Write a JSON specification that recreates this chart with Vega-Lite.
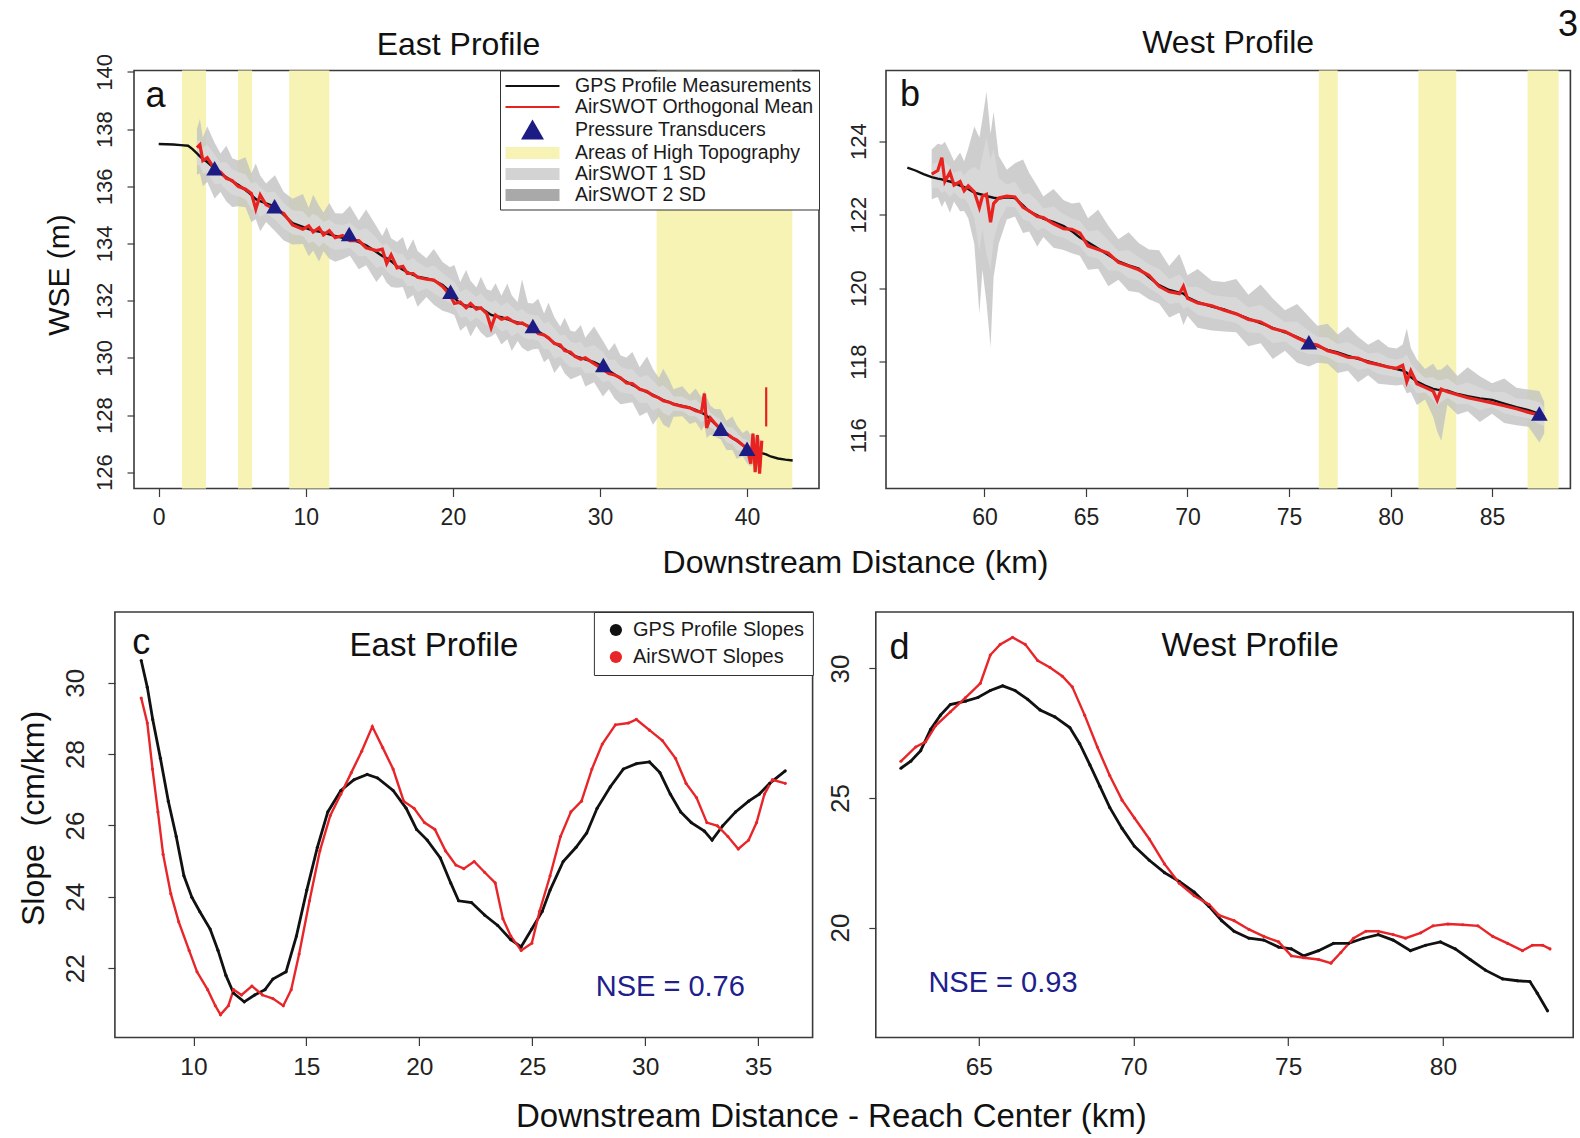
{
"$schema": "https://vega.github.io/schema/vega-lite/v6.json",
"background": "white",
"padding": {"left": 0, "top": 6.5, "right": 0, "bottom": 0},
"title": {"text": "3", "anchor": "end", "fontSize": 36, "offset": -45, "dx": 4, "baseline": "alphabetic", "frame": "bounds"},
"resolve": {"scale": {"color": "independent", "shape": "independent", "stroke": "independent", "size": "independent"}, "legend": {"color": "independent", "shape": "independent", "stroke": "independent"}},
"datasets": {
"a_topo": [{"x0":1.58,"x1":3.22},{"x0":5.39,"x1":6.35},{"x0":8.87,"x1":11.6},{"x0":33.85,"x1":43.08}],
"b_topo": [{"x0":76.47,"x1":77.4},{"x0":81.37,"x1":83.24},{"x0":86.75,"x1":88.28}],
"a_tri": [
{"x":3.8,"y":136.62,"series":"Pressure Transducers"},{"x":7.88,"y":135.29,"series":"Pressure Transducers"},
{"x":12.95,"y":134.32,"series":"Pressure Transducers"},{"x":19.84,"y":132.3,"series":"Pressure Transducers"},
{"x":25.44,"y":131.1,"series":"Pressure Transducers"},{"x":30.23,"y":129.74,"series":"Pressure Transducers"},
{"x":38.22,"y":127.51,"series":"Pressure Transducers"},{"x":40.0,"y":126.81,"series":"Pressure Transducers"}],
"b_tri": [{"x":75.98,"y":118.52},{"x":87.33,"y":116.58}],
"a_spike": [{"x":41.3,"y":127.6,"y2":128.97}],
"a_txt": [{"x":-0.22,"y":139.16,"t":"a"}],
"b_txt": [{"x":56.33,"y":125.24,"t":"b"}],
"c_txt": [{"x":7.69,"y":31.12,"t":"c"}],
"d_txt": [{"x":62.44,"y":30.8,"t":"d"}],
"c_ttl": [{"x":20.65,"y":31.04,"t":"East Profile"}],
"d_ttl": [{"x":73.77,"y":30.86,"t":"West Profile"}],
"c_nse": [{"x":31.11,"y":21.48,"t":"NSE = 0.76"}],
"d_nse": [{"x":65.78,"y":17.85,"t":"NSE = 0.93"}],
"a_wse": [
{"x":0,"g":137.48},{"x":0.5,"g":137.47},{"x":1.0,"g":137.46},{"x":1.5,"g":137.44},{"x":2.0,"g":137.42},{"x":2.3,"g":137.3},
{"x":2.6,"g":137.15,"r":137.35,"h2":138.0,"l2":136.4,"h1":137.6,"l1":136.75},
{"x":2.8,"g":137.05,"r":137.45,"h2":138.35,"l2":136.45,"h1":137.6,"l1":136.73},
{"x":3.0,"g":136.95,"r":136.9,"h2":137.7,"l2":136.0,"h1":137.35,"l1":136.45},
{"x":3.3,"g":136.85,"r":137.0,"h2":138.1,"l2":136.15,"h1":137.45,"l1":136.47},
{"x":3.8,"g":136.62,"r":136.6,"h2":137.52,"l2":135.57,"h1":137.12,"l1":136.07},
{"x":4.2,"g":136.45,"r":136.5,"h2":137.15,"l2":135.8,"h1":136.83,"l1":136.1},
{"x":4.6,"g":136.32,"r":136.28,"h2":137.42,"l2":135.47,"h1":136.84,"l1":135.87},
{"x":5.0,"g":136.18,"r":136.2,"h2":136.98,"l2":135.28,"h1":136.6,"l1":135.7},
{"x":5.4,"g":136.05,"r":136.0,"h2":136.9,"l2":135.3,"h1":136.5,"l1":135.65},
{"x":5.9,"g":135.87,"r":135.9,"h2":137.02,"l2":135.27,"h1":136.42,"l1":135.55},
{"x":6.3,"g":135.7,"r":135.75,"h2":136.45,"l2":134.75,"h1":136.1,"l1":135.2},
{"x":6.6,"g":135.55,"r":135.2,"h2":136.8,"l2":134.85,"h1":136.15,"l1":135.17},
{"x":6.9,"g":135.48,"r":135.7,"h2":136.38,"l2":134.43,"h1":135.98,"l1":134.93},
{"x":7.3,"g":135.4,"r":135.35,"h2":136.1,"l2":134.75,"h1":135.78,"l1":135.05},
{"x":7.9,"g":135.29,"r":135.2,"h2":136.39,"l2":134.44,"h1":135.81,"l1":134.84},
{"x":8.5,"g":135.0,"r":135.05,"h2":135.8,"l2":134.1,"h1":135.42,"l1":134.52},
{"x":9.1,"g":134.71,"r":134.65,"h2":135.56,"l2":133.96,"h1":135.16,"l1":134.31},
{"x":9.8,"g":134.58,"r":134.5,"h2":135.73,"l2":133.98,"h1":135.13,"l1":134.26},
{"x":10.2,"g":134.5,"r":134.62,"h2":135.25,"l2":133.55,"h1":134.9,"l1":134.0},
{"x":10.5,"g":134.45,"r":134.4,"h2":135.7,"l2":133.75,"h1":135.05,"l1":134.07},
{"x":10.9,"g":134.42,"r":134.55,"h2":135.32,"l2":133.37,"h1":134.92,"l1":133.87},
{"x":11.2,"g":134.38,"r":134.3,"h2":135.08,"l2":133.73,"h1":134.76,"l1":134.03},
{"x":11.6,"g":134.32,"r":134.45,"h2":135.42,"l2":133.47,"h1":134.84,"l1":133.87},
{"x":12.0,"g":134.26,"r":134.2,"h2":135.06,"l2":133.36,"h1":134.68,"l1":133.78},
{"x":12.5,"g":134.2,"r":134.28,"h2":135.05,"l2":133.45,"h1":134.65,"l1":133.8},
{"x":13.0,"g":134.17,"r":134.1,"h2":135.32,"l2":133.57,"h1":134.72,"l1":133.85},
{"x":13.6,"g":134.05,"r":134.1,"h2":134.8,"l2":133.1,"h1":134.45,"l1":133.55},
{"x":14.1,"g":133.94,"r":133.85,"h2":135.19,"l2":133.24,"h1":134.54,"l1":133.56},
{"x":14.8,"g":133.7,"r":133.75,"h2":134.6,"l2":132.65,"h1":134.2,"l1":133.15},
{"x":15.2,"g":133.56,"r":133.8,"h2":134.26,"l2":132.91,"h1":133.94,"l1":133.21},
{"x":15.5,"g":133.48,"r":133.3,"h2":134.58,"l2":132.63,"h1":134.0,"l1":133.03},
{"x":15.8,"g":133.38,"r":133.6,"h2":134.18,"l2":132.48,"h1":133.8,"l1":132.9},
{"x":16.2,"g":133.2,"r":133.15,"h2":134.05,"l2":132.45,"h1":133.65,"l1":132.8},
{"x":16.6,"g":133.08,"r":133.2,"h2":134.23,"l2":132.48,"h1":133.63,"l1":132.76},
{"x":16.9,"g":133.0,"r":132.95,"h2":133.75,"l2":132.05,"h1":133.4,"l1":132.5},
{"x":17.3,"g":132.9,"r":132.95,"h2":134.15,"l2":132.2,"h1":133.5,"l1":132.52},
{"x":17.6,"g":132.84,"r":132.82,"h2":133.74,"l2":131.79,"h1":133.34,"l1":132.29},
{"x":18.2,"g":132.78,"r":132.75,"h2":133.48,"l2":132.13,"h1":133.16,"l1":132.43},
{"x":18.7,"g":132.71,"r":132.72,"h2":133.81,"l2":131.86,"h1":133.23,"l1":132.26},
{"x":19.3,"g":132.55,"r":132.5,"h2":133.35,"l2":131.65,"h1":132.97,"l1":132.07},
{"x":19.8,"g":132.32,"r":132.2,"h2":133.17,"l2":131.57,"h1":132.77,"l1":131.92},
{"x":20.1,"g":132.1,"r":131.9,"h2":133.25,"l2":131.5,"h1":132.65,"l1":131.78},
{"x":20.5,"g":131.9,"r":131.95,"h2":132.65,"l2":130.95,"h1":132.3,"l1":131.4},
{"x":20.9,"g":131.82,"r":131.75,"h2":133.07,"l2":131.12,"h1":132.42,"l1":131.44},
{"x":21.2,"g":131.8,"r":131.9,"h2":132.7,"l2":130.75,"h1":132.3,"l1":131.25},
{"x":21.6,"g":131.76,"r":131.7,"h2":132.46,"l2":131.11,"h1":132.14,"l1":131.41},
{"x":21.9,"g":131.74,"r":131.75,"h2":132.84,"l2":130.89,"h1":132.26,"l1":131.29},
{"x":22.3,"g":131.6,"r":131.55,"h2":132.4,"l2":130.7,"h1":132.02,"l1":131.12},
{"x":22.6,"g":131.5,"r":131.05,"h2":132.35,"l2":130.75,"h1":131.95,"l1":131.1},
{"x":22.9,"g":131.46,"r":131.5,"h2":132.61,"l2":130.86,"h1":132.01,"l1":131.14},
{"x":23.3,"g":131.42,"r":131.35,"h2":132.17,"l2":130.47,"h1":131.82,"l1":130.92},
{"x":23.7,"g":131.35,"r":131.4,"h2":132.6,"l2":130.65,"h1":131.95,"l1":130.97},
{"x":24.0,"g":131.29,"r":131.3,"h2":132.19,"l2":130.24,"h1":131.79,"l1":130.74},
{"x":24.4,"g":131.24,"r":131.2,"h2":131.94,"l2":130.59,"h1":131.62,"l1":130.89},
{"x":24.7,"g":131.2,"r":131.22,"h2":132.75,"l2":130.35,"h1":131.72,"l1":130.75},
{"x":25.1,"g":131.12,"r":131.1,"h2":131.92,"l2":130.22,"h1":131.54,"l1":130.64},
{"x":25.44,"g":131.05,"r":131.05,"h2":131.9,"l2":130.3,"h1":131.5,"l1":130.65},
{"x":25.8,"g":130.92,"r":130.85,"h2":132.07,"l2":130.32,"h1":131.47,"l1":130.6},
{"x":26.2,"g":130.8,"r":130.8,"h2":131.55,"l2":129.85,"h1":131.2,"l1":130.3},
{"x":26.5,"g":130.68,"r":130.7,"h2":131.93,"l2":129.98,"h1":131.28,"l1":130.3},
{"x":26.9,"g":130.52,"r":130.5,"h2":131.42,"l2":129.47,"h1":131.02,"l1":129.97},
{"x":27.3,"g":130.4,"r":130.45,"h2":131.1,"l2":129.75,"h1":130.78,"l1":130.05},
{"x":27.6,"g":130.3,"r":130.25,"h2":131.4,"l2":129.45,"h1":130.82,"l1":129.85},
{"x":28.0,"g":130.15,"r":130.2,"h2":130.95,"l2":129.25,"h1":130.57,"l1":129.67},
{"x":28.3,"g":130.06,"r":130.05,"h2":130.91,"l2":129.31,"h1":130.51,"l1":129.66},
{"x":28.7,"g":130.0,"r":129.95,"h2":131.15,"l2":129.4,"h1":130.55,"l1":129.68},
{"x":29.0,"g":129.95,"r":130.0,"h2":130.7,"l2":129.0,"h1":130.35,"l1":129.45},
{"x":29.6,"g":129.85,"r":129.8,"h2":131.1,"l2":129.15,"h1":130.45,"l1":129.47},
{"x":30.2,"g":129.7,"r":129.6,"h2":130.6,"l2":128.65,"h1":130.2,"l1":129.15},
{"x":30.6,"g":129.55,"r":129.45,"h2":130.25,"l2":128.9,"h1":129.93,"l1":129.2},
{"x":31.0,"g":129.42,"r":129.4,"h2":130.52,"l2":128.57,"h1":129.94,"l1":128.97},
{"x":31.4,"g":129.28,"r":129.3,"h2":130.08,"l2":128.38,"h1":129.7,"l1":128.8},
{"x":31.8,"g":129.16,"r":129.12,"h2":130.01,"l2":128.41,"h1":129.61,"l1":128.76},
{"x":32.2,"g":129.05,"r":129.1,"h2":130.2,"l2":128.45,"h1":129.6,"l1":128.73},
{"x":32.7,"g":128.92,"r":128.9,"h2":129.67,"l2":127.97,"h1":129.32,"l1":128.42},
{"x":33.2,"g":128.8,"r":128.82,"h2":130.05,"l2":128.1,"h1":129.4,"l1":128.42},
{"x":33.6,"g":128.71,"r":128.68,"h2":129.61,"l2":127.66,"h1":129.21,"l1":128.16},
{"x":34.0,"g":128.6,"r":128.6,"h2":129.3,"l2":127.95,"h1":128.98,"l1":128.25},
{"x":34.3,"g":128.52,"r":128.5,"h2":129.62,"l2":127.67,"h1":129.04,"l1":128.07},
{"x":34.7,"g":128.45,"r":128.45,"h2":129.25,"l2":127.55,"h1":128.87,"l1":127.97},
{"x":35.0,"g":128.39,"r":128.38,"h2":128.9,"l2":127.94,"h1":128.66,"l1":128.15},
{"x":35.6,"g":128.32,"r":128.3,"h2":129.01,"l2":127.96,"h1":128.65,"l1":128.13},
{"x":36.1,"g":128.26,"r":128.25,"h2":128.71,"l2":127.69,"h1":128.5,"l1":127.96},
{"x":36.5,"g":128.18,"r":128.15,"h2":128.93,"l2":127.76,"h1":128.54,"l1":127.95},
{"x":36.9,"g":128.08,"r":128.1,"h2":128.62,"l2":127.45,"h1":128.38,"l1":127.75},
{"x":37.1,"g":128.03,"r":128.75,"h2":128.85,"l2":127.64,"h1":128.5,"l1":127.82},
{"x":37.25,"g":127.98,"r":127.55,"h2":128.64,"l2":127.2,"h1":128.3,"l1":127.7},
{"x":37.5,"g":127.85,"r":127.9,"h2":128.33,"l2":127.31,"h1":128.1,"l1":127.56},
{"x":37.8,"g":127.7,"r":127.72,"h2":128.21,"l2":127.25,"h1":127.97,"l1":127.46},
{"x":38.2,"g":127.51,"r":127.5,"h2":128.2,"l2":127.15,"h1":127.84,"l1":127.32},
{"x":38.6,"g":127.35,"r":127.35,"h2":127.8,"l2":126.78,"h1":127.59,"l1":127.05},
{"x":39.0,"g":127.2,"r":127.2,"h2":127.95,"l2":126.78,"h1":127.56,"l1":126.97},
{"x":39.3,"g":127.1,"r":127.12,"h2":127.64,"l2":126.47,"h1":127.4,"l1":126.77},
{"x":39.7,"g":126.95,"r":126.95,"h2":127.37,"l2":126.56,"h1":127.18,"l1":126.74},
{"x":40.0,"g":126.82,"r":126.85,"h2":127.48,"l2":126.31,"h1":127.13,"l1":126.55},
{"x":40.25,"g":126.78,"r":126.3,"h2":127.3,"l2":126.2,"h1":127.05,"l1":126.5},
{"x":40.4,"g":126.76,"r":127.35,"h2":127.4,"l2":126.3,"h1":127.1,"l1":126.5},
{"x":40.55,"g":126.74,"r":126.0,"h2":127.2,"l2":126.1,"h1":127.0,"l1":126.45},
{"x":40.7,"g":126.72,"r":127.3,"h2":127.35,"l2":126.2,"h1":127.05,"l1":126.45},
{"x":40.85,"g":126.7,"r":125.95,"h2":127.15,"l2":126.15,"h1":126.95,"l1":126.42},
{"x":41.0,"g":126.67,"r":127.1,"h2":127.1,"l2":126.2,"h1":126.9,"l1":126.42},
{"x":41.3,"g":126.62},{"x":41.6,"g":126.55},{"x":42.1,"g":126.48},{"x":42.6,"g":126.44},{"x":43.1,"g":126.41}],
"b_wse": [
{"x":56.2,"g":123.28},{"x":56.6,"g":123.2},{"x":57.0,"g":123.1},
{"x":57.4,"g":123.02,"r":123.1,"h2":123.77,"l2":122.42,"h1":123.37,"l1":122.72},
{"x":57.7,"g":122.98,"r":123.2,"h2":123.93,"l2":122.48,"h1":123.43,"l1":122.73},
{"x":57.9,"g":122.96,"r":123.55,"h2":123.9,"l2":122.21,"h1":123.4,"l1":122.58},
{"x":58.05,"g":122.93,"r":122.9,"h2":123.98,"l2":122.38,"h1":123.43,"l1":122.65},
{"x":58.3,"g":122.9,"r":123.15,"h2":123.7,"l2":122.05,"h1":123.3,"l1":122.48},
{"x":58.5,"g":122.86,"r":122.8,"h2":123.46,"l2":122.36,"h1":123.14,"l1":122.61},
{"x":58.8,"g":122.79,"r":122.9,"h2":123.69,"l2":122.09,"h1":123.21,"l1":122.44},
{"x":59.0,"g":122.75,"r":122.65,"h2":123.45,"l2":122.1,"h1":123.07,"l1":122.43},
{"x":59.2,"g":122.7,"r":122.78,"h2":123.8,"l2":121.9,"h1":123.2,"l1":122.3},
{"x":59.5,"g":122.6,"r":122.62,"h2":124.4,"l2":121.2,"h1":123.3,"l1":121.9},
{"x":59.75,"g":122.56,"r":122.19,"h2":124.1,"l2":119.3,"h1":123.2,"l1":121.0},
{"x":59.9,"g":122.54,"r":122.5,"h2":124.6,"l2":120.5,"h1":123.6,"l1":121.6},
{"x":60.1,"g":122.5,"r":122.55,"h2":125.35,"l2":119.6,"h1":124.1,"l1":120.9},
{"x":60.3,"g":122.48,"r":121.79,"h2":124.2,"l2":118.4,"h1":123.5,"l1":120.5},
{"x":60.45,"g":122.46,"r":122.3,"h2":124.8,"l2":120.3,"h1":123.8,"l1":121.3},
{"x":60.7,"g":122.44,"r":122.45,"h2":123.6,"l2":121.2,"h1":123.0,"l1":121.8},
{"x":61.1,"g":122.47,"r":122.5,"h2":123.22,"l2":121.87,"h1":122.82,"l1":122.22},
{"x":61.5,"g":122.45,"r":122.48,"h2":123.4,"l2":121.95,"h1":122.9,"l1":122.2},
{"x":61.9,"g":122.25,"r":122.2,"h2":123.5,"l2":121.5,"h1":122.55,"l1":121.87},
{"x":62.2,"g":122.09,"r":122.1,"h2":123.14,"l2":121.54,"h1":122.59,"l1":121.81},
{"x":62.6,"g":121.98,"r":121.95,"h2":122.78,"l2":121.13,"h1":122.38,"l1":121.56},
{"x":62.9,"g":121.89,"r":121.92,"h2":122.49,"l2":121.39,"h1":122.17,"l1":121.64},
{"x":63.4,"g":121.8,"r":121.75,"h2":122.7,"l2":121.1,"h1":122.22,"l1":121.45},
{"x":63.9,"g":121.69,"r":121.62,"h2":122.39,"l2":121.04,"h1":122.01,"l1":121.37},
{"x":64.3,"g":121.55,"r":121.6,"h2":122.3,"l2":120.95,"h1":121.9,"l1":121.25},
{"x":64.7,"g":121.38,"r":121.5,"h2":122.33,"l2":120.88,"h1":121.83,"l1":121.13},
{"x":65.1,"g":121.25,"r":121.15,"h2":121.9,"l2":120.5,"h1":121.55,"l1":120.87},
{"x":65.6,"g":121.08,"r":121.05,"h2":122.13,"l2":120.53,"h1":121.58,"l1":120.8},
{"x":66.1,"g":120.9,"r":120.95,"h2":121.7,"l2":120.05,"h1":121.3,"l1":120.48},
{"x":66.6,"g":120.73,"r":120.7,"h2":121.33,"l2":120.23,"h1":121.01,"l1":120.48},
{"x":67.1,"g":120.62,"r":120.6,"h2":121.52,"l2":119.92,"h1":121.04,"l1":120.27},
{"x":67.6,"g":120.53,"r":120.5,"h2":121.23,"l2":119.88,"h1":120.85,"l1":120.21},
{"x":68.1,"g":120.3,"r":120.35,"h2":121.05,"l2":119.7,"h1":120.65,"l1":120.0},
{"x":68.6,"g":120.08,"r":120.05,"h2":121.03,"l2":119.58,"h1":120.53,"l1":119.83},
{"x":69.1,"g":119.95,"r":119.9,"h2":120.6,"l2":119.2,"h1":120.25,"l1":119.57},
{"x":69.6,"g":119.88,"r":119.85,"h2":120.93,"l2":119.33,"h1":120.38,"l1":119.6},
{"x":69.8,"g":119.85,"r":120.05,"h2":120.65,"l2":119.0,"h1":120.25,"l1":119.43},
{"x":70.0,"g":119.75,"r":119.72,"h2":120.35,"l2":119.25,"h1":120.03,"l1":119.5},
{"x":70.5,"g":119.62,"r":119.6,"h2":120.52,"l2":118.92,"h1":120.04,"l1":119.27},
{"x":71.2,"g":119.5,"r":119.52,"h2":120.2,"l2":118.85,"h1":119.82,"l1":119.18},
{"x":71.8,"g":119.42,"r":119.4,"h2":120.17,"l2":118.82,"h1":119.77,"l1":119.12},
{"x":72.4,"g":119.3,"r":119.3,"h2":120.25,"l2":118.8,"h1":119.75,"l1":119.05},
{"x":73.0,"g":119.17,"r":119.15,"h2":119.82,"l2":118.42,"h1":119.47,"l1":118.79},
{"x":73.6,"g":119.05,"r":119.08,"h2":120.1,"l2":118.5,"h1":119.55,"l1":118.77},
{"x":74.2,"g":118.92,"r":118.9,"h2":119.72,"l2":118.07,"h1":119.32,"l1":118.5},
{"x":74.8,"g":118.8,"r":118.82,"h2":119.4,"l2":118.3,"h1":119.08,"l1":118.55},
{"x":75.4,"g":118.67,"r":118.65,"h2":119.57,"l2":117.97,"h1":119.09,"l1":118.32},
{"x":75.98,"g":118.52,"r":118.5,"h2":119.22,"l2":117.87,"h1":118.84,"l1":118.2},
{"x":76.4,"g":118.42,"r":118.45,"h2":118.98,"l2":117.97,"h1":118.68,"l1":118.2},
{"x":76.9,"g":118.32,"r":118.3,"h2":119.03,"l2":117.94,"h1":118.66,"l1":118.13},
{"x":77.4,"g":118.25,"r":118.22,"h2":118.74,"l2":117.69,"h1":118.48,"l1":117.97},
{"x":77.9,"g":118.16,"r":118.12,"h2":118.95,"l2":117.75,"h1":118.54,"l1":117.95},
{"x":78.4,"g":118.08,"r":118.1,"h2":118.68,"l2":117.44,"h1":118.38,"l1":117.77},
{"x":78.9,"g":118.01,"r":117.98,"h2":118.46,"l2":117.63,"h1":118.22,"l1":117.82},
{"x":79.4,"g":117.93,"r":117.92,"h2":118.61,"l2":117.4,"h1":118.25,"l1":117.67},
{"x":79.9,"g":117.86,"r":117.85,"h2":118.39,"l2":117.37,"h1":118.1,"l1":117.62},
{"x":80.3,"g":117.8,"r":117.82,"h2":118.36,"l2":117.35,"h1":118.06,"l1":117.58},
{"x":80.6,"g":117.76,"r":117.9,"h2":118.47,"l2":117.38,"h1":118.1,"l1":117.57},
{"x":80.8,"g":117.7,"r":117.45,"h2":118.9,"l2":117.14,"h1":118.2,"l1":117.4},
{"x":81.0,"g":117.58,"r":117.75,"h2":118.37,"l2":117.17,"h1":117.96,"l1":117.37},
{"x":81.3,"g":117.46,"r":117.4,"h2":118.06,"l2":116.82,"h1":117.76,"l1":117.14},
{"x":81.7,"g":117.35,"r":117.3,"h2":117.8,"l2":116.97,"h1":117.56,"l1":117.16},
{"x":82.1,"g":117.26,"r":117.2,"h2":117.94,"l2":116.5,"h1":117.58,"l1":116.95},
{"x":82.3,"g":117.24,"r":116.95,"h2":117.77,"l2":116.1,"h1":117.5,"l1":116.8},
{"x":82.5,"g":117.23,"r":117.25,"h2":117.79,"l2":115.85,"h1":117.5,"l1":116.9},
{"x":82.8,"g":117.21,"r":117.18,"h2":117.92,"l2":116.83,"h1":117.55,"l1":117.02},
{"x":83.3,"g":117.12,"r":117.1,"h2":117.61,"l2":116.56,"h1":117.35,"l1":116.84},
{"x":83.8,"g":117.06,"r":117.02,"h2":117.85,"l2":116.65,"h1":117.44,"l1":116.85},
{"x":84.4,"g":117.0,"r":116.95,"h2":117.6,"l2":116.36,"h1":117.3,"l1":116.68},
{"x":85.0,"g":116.96,"r":116.88,"h2":117.41,"l2":116.58,"h1":117.17,"l1":116.77},
{"x":85.6,"g":116.86,"r":116.8,"h2":117.54,"l2":116.33,"h1":117.18,"l1":116.6},
{"x":86.2,"g":116.76,"r":116.72,"h2":117.29,"l2":116.27,"h1":117.0,"l1":116.52},
{"x":86.8,"g":116.68,"r":116.62,"h2":117.24,"l2":116.23,"h1":116.98,"l1":116.46},
{"x":87.33,"g":116.58,"r":116.55,"h2":117.2,"l2":115.8,"h1":116.9,"l1":116.3},
{"x":87.57,"g":116.5,"r":116.45,"h2":116.9,"l2":116.05,"h1":116.75,"l1":116.25}],
"c_slope": [
{"x":7.69,"v":30.62,"s":"GPS Profile Slopes"},{"x":7.96,"v":29.87,"s":"GPS Profile Slopes"},{"x":8.2,"v":28.97,"s":"GPS Profile Slopes"},
{"x":8.54,"v":27.88,"s":"GPS Profile Slopes"},{"x":8.89,"v":26.68,"s":"GPS Profile Slopes"},{"x":9.24,"v":25.69,"s":"GPS Profile Slopes"},
{"x":9.58,"v":24.59,"s":"GPS Profile Slopes"},{"x":9.93,"v":23.99,"s":"GPS Profile Slopes"},{"x":10.28,"v":23.59,"s":"GPS Profile Slopes"},
{"x":10.74,"v":23.1,"s":"GPS Profile Slopes"},{"x":11.09,"v":22.5,"s":"GPS Profile Slopes"},{"x":11.44,"v":21.8,"s":"GPS Profile Slopes"},
{"x":11.78,"v":21.3,"s":"GPS Profile Slopes"},{"x":12.25,"v":21.06,"s":"GPS Profile Slopes"},{"x":12.71,"v":21.25,"s":"GPS Profile Slopes"},
{"x":13.17,"v":21.4,"s":"GPS Profile Slopes"},{"x":13.52,"v":21.7,"s":"GPS Profile Slopes"},{"x":14.1,"v":21.9,"s":"GPS Profile Slopes"},
{"x":14.56,"v":22.9,"s":"GPS Profile Slopes"},{"x":15.02,"v":24.19,"s":"GPS Profile Slopes"},{"x":15.49,"v":25.39,"s":"GPS Profile Slopes"},
{"x":15.95,"v":26.38,"s":"GPS Profile Slopes"},{"x":16.53,"v":26.98,"s":"GPS Profile Slopes"},{"x":17.11,"v":27.28,"s":"GPS Profile Slopes"},
{"x":17.69,"v":27.43,"s":"GPS Profile Slopes"},{"x":18.15,"v":27.33,"s":"GPS Profile Slopes"},{"x":18.84,"v":26.98,"s":"GPS Profile Slopes"},
{"x":19.42,"v":26.48,"s":"GPS Profile Slopes"},{"x":19.88,"v":25.89,"s":"GPS Profile Slopes"},{"x":20.35,"v":25.59,"s":"GPS Profile Slopes"},
{"x":20.93,"v":25.09,"s":"GPS Profile Slopes"},{"x":21.39,"v":24.39,"s":"GPS Profile Slopes"},{"x":21.74,"v":23.89,"s":"GPS Profile Slopes"},
{"x":22.31,"v":23.84,"s":"GPS Profile Slopes"},{"x":22.89,"v":23.49,"s":"GPS Profile Slopes"},{"x":23.47,"v":23.2,"s":"GPS Profile Slopes"},
{"x":24.05,"v":22.8,"s":"GPS Profile Slopes"},{"x":24.51,"v":22.6,"s":"GPS Profile Slopes"},{"x":24.98,"v":23.1,"s":"GPS Profile Slopes"},
{"x":25.44,"v":23.59,"s":"GPS Profile Slopes"},{"x":25.79,"v":24.19,"s":"GPS Profile Slopes"},{"x":26.37,"v":24.99,"s":"GPS Profile Slopes"},
{"x":26.94,"v":25.39,"s":"GPS Profile Slopes"},{"x":27.41,"v":25.79,"s":"GPS Profile Slopes"},{"x":27.87,"v":26.48,"s":"GPS Profile Slopes"},
{"x":28.45,"v":27.08,"s":"GPS Profile Slopes"},{"x":29.03,"v":27.58,"s":"GPS Profile Slopes"},{"x":29.61,"v":27.73,"s":"GPS Profile Slopes"},
{"x":30.19,"v":27.78,"s":"GPS Profile Slopes"},{"x":30.65,"v":27.48,"s":"GPS Profile Slopes"},{"x":31.11,"v":26.88,"s":"GPS Profile Slopes"},
{"x":31.57,"v":26.38,"s":"GPS Profile Slopes"},{"x":32.04,"v":26.08,"s":"GPS Profile Slopes"},{"x":32.62,"v":25.84,"s":"GPS Profile Slopes"},
{"x":32.96,"v":25.59,"s":"GPS Profile Slopes"},{"x":33.43,"v":25.99,"s":"GPS Profile Slopes"},{"x":34.0,"v":26.38,"s":"GPS Profile Slopes"},
{"x":34.58,"v":26.68,"s":"GPS Profile Slopes"},{"x":35.05,"v":26.88,"s":"GPS Profile Slopes"},{"x":35.51,"v":27.18,"s":"GPS Profile Slopes"},
{"x":36.2,"v":27.53,"s":"GPS Profile Slopes"},
{"x":7.69,"v":29.57,"s":"AirSWOT Slopes"},{"x":7.96,"v":28.87,"s":"AirSWOT Slopes"},{"x":8.19,"v":27.58,"s":"AirSWOT Slopes"},
{"x":8.43,"v":26.38,"s":"AirSWOT Slopes"},{"x":8.66,"v":25.19,"s":"AirSWOT Slopes"},{"x":9.0,"v":24.09,"s":"AirSWOT Slopes"},
{"x":9.35,"v":23.3,"s":"AirSWOT Slopes"},{"x":9.81,"v":22.5,"s":"AirSWOT Slopes"},{"x":10.16,"v":21.9,"s":"AirSWOT Slopes"},
{"x":10.63,"v":21.4,"s":"AirSWOT Slopes"},{"x":10.97,"v":20.95,"s":"AirSWOT Slopes"},{"x":11.2,"v":20.7,"s":"AirSWOT Slopes"},
{"x":11.55,"v":20.95,"s":"AirSWOT Slopes"},{"x":11.78,"v":21.4,"s":"AirSWOT Slopes"},{"x":12.13,"v":21.25,"s":"AirSWOT Slopes"},
{"x":12.59,"v":21.5,"s":"AirSWOT Slopes"},{"x":13.06,"v":21.25,"s":"AirSWOT Slopes"},{"x":13.52,"v":21.15,"s":"AirSWOT Slopes"},
{"x":13.98,"v":20.95,"s":"AirSWOT Slopes"},{"x":14.33,"v":21.4,"s":"AirSWOT Slopes"},{"x":14.68,"v":22.4,"s":"AirSWOT Slopes"},
{"x":15.14,"v":23.89,"s":"AirSWOT Slopes"},{"x":15.6,"v":25.29,"s":"AirSWOT Slopes"},{"x":16.06,"v":26.28,"s":"AirSWOT Slopes"},
{"x":16.53,"v":26.88,"s":"AirSWOT Slopes"},{"x":16.99,"v":27.48,"s":"AirSWOT Slopes"},{"x":17.45,"v":28.08,"s":"AirSWOT Slopes"},
{"x":17.92,"v":28.77,"s":"AirSWOT Slopes"},{"x":18.38,"v":28.18,"s":"AirSWOT Slopes"},{"x":18.84,"v":27.58,"s":"AirSWOT Slopes"},
{"x":19.31,"v":26.68,"s":"AirSWOT Slopes"},{"x":19.77,"v":26.48,"s":"AirSWOT Slopes"},{"x":20.23,"v":26.08,"s":"AirSWOT Slopes"},
{"x":20.69,"v":25.89,"s":"AirSWOT Slopes"},{"x":21.16,"v":25.29,"s":"AirSWOT Slopes"},{"x":21.62,"v":24.89,"s":"AirSWOT Slopes"},
{"x":21.97,"v":24.79,"s":"AirSWOT Slopes"},{"x":22.43,"v":24.99,"s":"AirSWOT Slopes"},{"x":22.89,"v":24.69,"s":"AirSWOT Slopes"},
{"x":23.36,"v":24.39,"s":"AirSWOT Slopes"},{"x":23.7,"v":23.39,"s":"AirSWOT Slopes"},{"x":24.05,"v":22.9,"s":"AirSWOT Slopes"},
{"x":24.51,"v":22.5,"s":"AirSWOT Slopes"},{"x":24.98,"v":22.7,"s":"AirSWOT Slopes"},{"x":25.32,"v":23.59,"s":"AirSWOT Slopes"},
{"x":25.79,"v":24.59,"s":"AirSWOT Slopes"},{"x":26.25,"v":25.69,"s":"AirSWOT Slopes"},{"x":26.71,"v":26.38,"s":"AirSWOT Slopes"},
{"x":27.18,"v":26.68,"s":"AirSWOT Slopes"},{"x":27.64,"v":27.58,"s":"AirSWOT Slopes"},{"x":28.1,"v":28.28,"s":"AirSWOT Slopes"},
{"x":28.68,"v":28.82,"s":"AirSWOT Slopes"},{"x":29.26,"v":28.87,"s":"AirSWOT Slopes"},{"x":29.61,"v":28.97,"s":"AirSWOT Slopes"},
{"x":30.19,"v":28.67,"s":"AirSWOT Slopes"},{"x":30.76,"v":28.38,"s":"AirSWOT Slopes"},{"x":31.34,"v":27.88,"s":"AirSWOT Slopes"},
{"x":31.81,"v":27.18,"s":"AirSWOT Slopes"},{"x":32.27,"v":26.78,"s":"AirSWOT Slopes"},{"x":32.73,"v":26.08,"s":"AirSWOT Slopes"},
{"x":33.2,"v":25.99,"s":"AirSWOT Slopes"},{"x":33.66,"v":25.69,"s":"AirSWOT Slopes"},{"x":34.12,"v":25.34,"s":"AirSWOT Slopes"},
{"x":34.58,"v":25.59,"s":"AirSWOT Slopes"},{"x":34.93,"v":26.08,"s":"AirSWOT Slopes"},{"x":35.28,"v":26.88,"s":"AirSWOT Slopes"},
{"x":35.63,"v":27.28,"s":"AirSWOT Slopes"},{"x":36.2,"v":27.18,"s":"AirSWOT Slopes"}],
"d_slope": [
{"x":62.48,"v":26.15,"s":"GPS Profile Slopes"},{"x":62.8,"v":26.42,"s":"GPS Profile Slopes"},{"x":63.12,"v":26.83,"s":"GPS Profile Slopes"},
{"x":63.44,"v":27.65,"s":"GPS Profile Slopes"},{"x":63.76,"v":28.2,"s":"GPS Profile Slopes"},{"x":64.08,"v":28.61,"s":"GPS Profile Slopes"},
{"x":64.57,"v":28.74,"s":"GPS Profile Slopes"},{"x":64.97,"v":28.88,"s":"GPS Profile Slopes"},{"x":65.37,"v":29.15,"s":"GPS Profile Slopes"},
{"x":65.77,"v":29.33,"s":"GPS Profile Slopes"},{"x":66.17,"v":29.15,"s":"GPS Profile Slopes"},{"x":66.58,"v":28.81,"s":"GPS Profile Slopes"},
{"x":66.98,"v":28.4,"s":"GPS Profile Slopes"},{"x":67.46,"v":28.13,"s":"GPS Profile Slopes"},{"x":67.94,"v":27.72,"s":"GPS Profile Slopes"},
{"x":68.26,"v":27.1,"s":"GPS Profile Slopes"},{"x":68.59,"v":26.28,"s":"GPS Profile Slopes"},{"x":68.91,"v":25.46,"s":"GPS Profile Slopes"},
{"x":69.23,"v":24.64,"s":"GPS Profile Slopes"},{"x":69.63,"v":23.83,"s":"GPS Profile Slopes"},{"x":70.03,"v":23.14,"s":"GPS Profile Slopes"},
{"x":70.51,"v":22.6,"s":"GPS Profile Slopes"},{"x":71.0,"v":22.12,"s":"GPS Profile Slopes"},{"x":71.48,"v":21.78,"s":"GPS Profile Slopes"},
{"x":71.96,"v":21.37,"s":"GPS Profile Slopes"},{"x":72.44,"v":20.82,"s":"GPS Profile Slopes"},{"x":72.85,"v":20.27,"s":"GPS Profile Slopes"},
{"x":73.25,"v":19.86,"s":"GPS Profile Slopes"},{"x":73.73,"v":19.59,"s":"GPS Profile Slopes"},{"x":74.21,"v":19.52,"s":"GPS Profile Slopes"},
{"x":74.69,"v":19.25,"s":"GPS Profile Slopes"},{"x":75.1,"v":19.18,"s":"GPS Profile Slopes"},{"x":75.5,"v":18.91,"s":"GPS Profile Slopes"},
{"x":75.98,"v":19.11,"s":"GPS Profile Slopes"},{"x":76.46,"v":19.39,"s":"GPS Profile Slopes"},{"x":76.95,"v":19.39,"s":"GPS Profile Slopes"},
{"x":77.43,"v":19.59,"s":"GPS Profile Slopes"},{"x":77.91,"v":19.73,"s":"GPS Profile Slopes"},{"x":78.39,"v":19.52,"s":"GPS Profile Slopes"},
{"x":78.95,"v":19.11,"s":"GPS Profile Slopes"},{"x":79.44,"v":19.32,"s":"GPS Profile Slopes"},{"x":79.92,"v":19.45,"s":"GPS Profile Slopes"},
{"x":80.4,"v":19.18,"s":"GPS Profile Slopes"},{"x":80.88,"v":18.77,"s":"GPS Profile Slopes"},{"x":81.37,"v":18.36,"s":"GPS Profile Slopes"},
{"x":81.93,"v":18.02,"s":"GPS Profile Slopes"},{"x":82.41,"v":17.95,"s":"GPS Profile Slopes"},{"x":82.81,"v":17.92,"s":"GPS Profile Slopes"},
{"x":83.05,"v":17.47,"s":"GPS Profile Slopes"},{"x":83.38,"v":16.79,"s":"GPS Profile Slopes"},
{"x":62.48,"v":26.42,"s":"AirSWOT Slopes"},{"x":62.96,"v":26.97,"s":"AirSWOT Slopes"},{"x":63.28,"v":27.17,"s":"AirSWOT Slopes"},
{"x":63.6,"v":27.79,"s":"AirSWOT Slopes"},{"x":64.08,"v":28.33,"s":"AirSWOT Slopes"},{"x":64.57,"v":28.88,"s":"AirSWOT Slopes"},
{"x":65.05,"v":29.43,"s":"AirSWOT Slopes"},{"x":65.37,"v":30.52,"s":"AirSWOT Slopes"},{"x":65.69,"v":30.93,"s":"AirSWOT Slopes"},
{"x":66.09,"v":31.2,"s":"AirSWOT Slopes"},{"x":66.5,"v":30.93,"s":"AirSWOT Slopes"},{"x":66.9,"v":30.31,"s":"AirSWOT Slopes"},
{"x":67.3,"v":30.04,"s":"AirSWOT Slopes"},{"x":67.7,"v":29.7,"s":"AirSWOT Slopes"},{"x":68.02,"v":29.29,"s":"AirSWOT Slopes"},
{"x":68.42,"v":28.2,"s":"AirSWOT Slopes"},{"x":68.83,"v":26.97,"s":"AirSWOT Slopes"},{"x":69.23,"v":25.87,"s":"AirSWOT Slopes"},
{"x":69.63,"v":24.92,"s":"AirSWOT Slopes"},{"x":70.03,"v":24.23,"s":"AirSWOT Slopes"},{"x":70.51,"v":23.42,"s":"AirSWOT Slopes"},
{"x":71.0,"v":22.46,"s":"AirSWOT Slopes"},{"x":71.48,"v":21.71,"s":"AirSWOT Slopes"},{"x":71.96,"v":21.23,"s":"AirSWOT Slopes"},
{"x":72.44,"v":20.89,"s":"AirSWOT Slopes"},{"x":72.76,"v":20.48,"s":"AirSWOT Slopes"},{"x":73.25,"v":20.27,"s":"AirSWOT Slopes"},
{"x":73.73,"v":19.93,"s":"AirSWOT Slopes"},{"x":74.21,"v":19.66,"s":"AirSWOT Slopes"},{"x":74.69,"v":19.45,"s":"AirSWOT Slopes"},
{"x":75.1,"v":18.91,"s":"AirSWOT Slopes"},{"x":75.5,"v":18.84,"s":"AirSWOT Slopes"},{"x":75.98,"v":18.77,"s":"AirSWOT Slopes"},
{"x":76.38,"v":18.63,"s":"AirSWOT Slopes"},{"x":76.7,"v":19.04,"s":"AirSWOT Slopes"},{"x":77.11,"v":19.59,"s":"AirSWOT Slopes"},
{"x":77.51,"v":19.86,"s":"AirSWOT Slopes"},{"x":77.91,"v":19.86,"s":"AirSWOT Slopes"},{"x":78.39,"v":19.73,"s":"AirSWOT Slopes"},
{"x":78.79,"v":19.59,"s":"AirSWOT Slopes"},{"x":79.28,"v":19.8,"s":"AirSWOT Slopes"},{"x":79.68,"v":20.07,"s":"AirSWOT Slopes"},
{"x":80.16,"v":20.14,"s":"AirSWOT Slopes"},{"x":80.64,"v":20.11,"s":"AirSWOT Slopes"},{"x":81.13,"v":20.07,"s":"AirSWOT Slopes"},
{"x":81.61,"v":19.66,"s":"AirSWOT Slopes"},{"x":82.09,"v":19.39,"s":"AirSWOT Slopes"},{"x":82.57,"v":19.11,"s":"AirSWOT Slopes"},
{"x":82.89,"v":19.32,"s":"AirSWOT Slopes"},{"x":83.22,"v":19.32,"s":"AirSWOT Slopes"},{"x":83.46,"v":19.18,"s":"AirSWOT Slopes"}]
},
"vconcat": [
{"hconcat": [
  {"width": 66.5, "height": 10, "data": {"values": []}, "mark": {"type": "point", "opacity": 0}, "encoding": {}, "view": {"stroke": null}},
  {"width": 685, "height": 418,
   "title": {"text": "East Profile", "fontSize": 32, "dx": -18, "offset": -33.8, "anchor": "middle", "frame": "group", "baseline": "alphabetic"},
   "layer": [
    {"data": {"name": "a_topo"}, "mark": {"type": "rect", "color": "#f6f3b5"},
     "encoding": {
      "x": {"field": "x0", "type": "quantitative", "scale": {"domain": [-1.68, 44.89], "nice": false, "zero": false},
            "axis": {"values": [0,10,20,30,40], "title": "Downstream Distance (km)", "titleFontSize": 32, "titleX": 721, "titleY": 74, "titleBaseline": "middle", "titleAlign": "center", "labelFontSize": 23, "tickSize": 8, "labelPadding": 10}},
      "x2": {"field": "x1"}}},
    {"data": {"name": "a_wse"}, "mark": {"type": "area", "color": "#c2c2c2", "opacity": 0.8},
     "encoding": {
      "x": {"field": "x", "type": "quantitative"},
      "y": {"field": "h2", "type": "quantitative", "scale": {"domain": [125.43, 140.05], "nice": false, "zero": false},
            "axis": {"values": [126,128,130,132,134,136,138,140], "title": "WSE (m)", "titleFontSize": 30, "titleX": -74.7, "titleY": 204, "titleAngle": 270, "titleBaseline": "middle", "titleAlign": "center", "labelFontSize": 22, "labelAngle": 270, "labelAlign": "center", "labelBaseline": "alphabetic", "labelPadding": 16, "tickSize": 7}},
      "y2": {"field": "l2"}}},
    {"data": {"name": "a_wse"}, "mark": {"type": "area", "color": "#d9d9d9", "opacity": 0.85},
     "encoding": {"x": {"field": "x", "type": "quantitative"}, "y": {"field": "h1", "type": "quantitative"}, "y2": {"field": "l1"}}},
    {"data": {"name": "a_wse"}, "mark": {"type": "line", "color": "#111111", "strokeWidth": 2.4},
     "encoding": {"x": {"field": "x", "type": "quantitative"}, "y": {"field": "g", "type": "quantitative"}}},
    {"data": {"name": "a_wse"}, "mark": {"type": "line", "color": "#e8221f", "strokeWidth": 3.2},
     "encoding": {"x": {"field": "x", "type": "quantitative"}, "y": {"field": "r", "type": "quantitative"}}},
    {"data": {"name": "a_spike"}, "mark": {"type": "rule", "color": "#e8221f", "strokeWidth": 2.2},
     "encoding": {"x": {"field": "x", "type": "quantitative"}, "y": {"field": "y", "type": "quantitative"}, "y2": {"field": "y2"}}},
    {"data": {"name": "a_tri"}, "mark": {"type": "point", "filled": true, "opacity": 1, "size": 212, "strokeWidth": 0},
     "encoding": {
      "x": {"field": "x", "type": "quantitative"}, "y": {"field": "y", "type": "quantitative"},
      "color": {"field": "series", "type": "nominal",
        "scale": {"domain": ["GPS Profile Measurements","AirSWOT Orthogonal Mean","Pressure Transducers","Areas of High Topography","AirSWOT 1 SD","AirSWOT 2 SD"],
                  "range": ["#111111","#e8221f","#1c1c84","#f6f3b5","#d3d3d3","#a9a9a9"]},
        "legend": {"title": null, "orient": "top-right", "offset": 0, "padding": 5, "fillColor": "white", "strokeColor": "#333333", "labelFontSize": 19.5, "labelColor": "#1a1a1a", "labelLimit": 400, "symbolSize": 400, "symbolOffset": 17, "labelOffset": 32, "rowPadding": 1, "symbolOpacity": 1, "symbolStrokeWidth": 0.8, "symbolStrokeColor": "#666666"}},
      "shape": {"field": "series", "type": "nominal",
        "scale": {"domain": ["GPS Profile Measurements","AirSWOT Orthogonal Mean","Pressure Transducers","Areas of High Topography","AirSWOT 1 SD","AirSWOT 2 SD"],
                  "range": ["M-2.7,-0.11L2.7,-0.11L2.7,0.11L-2.7,0.11Z","M-2.7,-0.11L2.7,-0.11L2.7,0.11L-2.7,0.11Z","M0,-1.05L1.15,0.95L-1.15,0.95Z","M-2.7,-0.6L2.7,-0.6L2.7,0.6L-2.7,0.6Z","M-2.7,-0.6L2.7,-0.6L2.7,0.6L-2.7,0.6Z","M-2.7,-0.6L2.7,-0.6L2.7,0.6L-2.7,0.6Z"]},
        "legend": {"title": null, "orient": "top-right", "offset": 0, "padding": 5, "fillColor": "white", "strokeColor": "#333333", "labelFontSize": 19.5, "labelColor": "#1a1a1a", "labelLimit": 400, "symbolSize": 400, "symbolOffset": 17, "labelOffset": 32, "rowPadding": 1, "symbolOpacity": 1, "symbolStrokeWidth": 0.8, "symbolStrokeColor": "#666666"}}}},
    {"data": {"name": "a_txt"}, "mark": {"type": "text", "fontSize": 36, "color": "#111111", "align": "center", "baseline": "middle"},
     "encoding": {"x": {"field": "x", "type": "quantitative"}, "y": {"field": "y", "type": "quantitative"}, "text": {"field": "t"}}}
   ]},
  {"width": 684.4, "height": 418,
   "title": {"text": "West Profile", "fontSize": 32, "dx": 0, "offset": -14.8, "anchor": "middle", "frame": "group", "baseline": "alphabetic"},
   "layer": [
    {"data": {"name": "b_topo"}, "mark": {"type": "rect", "color": "#f6f3b5"},
     "encoding": {
      "x": {"field": "x0", "type": "quantitative", "scale": {"domain": [55.15, 88.86], "nice": false, "zero": false},
            "axis": {"values": [60,65,70,75,80,85], "title": null, "labelFontSize": 23, "tickSize": 8, "labelPadding": 10}},
      "x2": {"field": "x1"}}},
    {"data": {"name": "b_wse"}, "mark": {"type": "area", "color": "#c2c2c2", "opacity": 0.8},
     "encoding": {
      "x": {"field": "x", "type": "quantitative"},
      "y": {"field": "h2", "type": "quantitative", "scale": {"domain": [114.55, 125.92], "nice": false, "zero": false},
            "axis": {"values": [116,118,120,122,124], "title": null, "labelFontSize": 22, "labelAngle": 270, "labelAlign": "center", "labelBaseline": "alphabetic", "labelPadding": 14, "tickSize": 7}},
      "y2": {"field": "l2"}}},
    {"data": {"name": "b_wse"}, "mark": {"type": "area", "color": "#d9d9d9", "opacity": 0.85},
     "encoding": {"x": {"field": "x", "type": "quantitative"}, "y": {"field": "h1", "type": "quantitative"}, "y2": {"field": "l1"}}},
    {"data": {"name": "b_wse"}, "mark": {"type": "line", "color": "#111111", "strokeWidth": 2.4},
     "encoding": {"x": {"field": "x", "type": "quantitative"}, "y": {"field": "g", "type": "quantitative"}}},
    {"data": {"name": "b_wse"}, "mark": {"type": "line", "color": "#e8221f", "strokeWidth": 3.2},
     "encoding": {"x": {"field": "x", "type": "quantitative"}, "y": {"field": "r", "type": "quantitative"}}},
    {"data": {"name": "b_tri"}, "mark": {"type": "point", "filled": true, "opacity": 1, "size": 212, "strokeWidth": 0, "color": "#1c1c84", "shape": "M0,-1.05L1.15,0.95L-1.15,0.95Z"},
     "encoding": {"x": {"field": "x", "type": "quantitative"}, "y": {"field": "y", "type": "quantitative"}}},
    {"data": {"name": "b_txt"}, "mark": {"type": "text", "fontSize": 36, "color": "#111111", "align": "center", "baseline": "middle"},
     "encoding": {"x": {"field": "x", "type": "quantitative"}, "y": {"field": "y", "type": "quantitative"}, "text": {"field": "t"}}}
   ]}
 ], "spacing": 67, "bounds": "flush",
 "resolve": {"scale": {"color": "independent", "shape": "independent", "stroke": "independent", "size": "independent"}, "legend": {"color": "independent", "shape": "independent", "stroke": "independent"}}},
{"hconcat": [
  {"width": 51.1, "height": 10, "data": {"values": []}, "mark": {"type": "point", "opacity": 0}, "encoding": {}, "view": {"stroke": null}},
  {"width": 697.7, "height": 425.5,
   "layer": [
    {"data": {"name": "c_slope"}, "transform": [{"filter": "datum.s == 'GPS Profile Slopes'"}], "mark": {"type": "line", "strokeWidth": 2.8, "color": "#111111"},
     "encoding": {
      "x": {"field": "x", "type": "quantitative", "scale": {"domain": [6.525, 37.41], "nice": false, "zero": false},
            "axis": {"values": [10,15,20,25,30,35], "title": "Downstream Distance - Reach Center (km)", "titleFontSize": 33, "titleX": 716, "titleY": 79, "titleBaseline": "middle", "titleAlign": "center", "labelFontSize": 24.5, "tickSize": 8, "labelPadding": 10}},
      "y": {"field": "v", "type": "quantitative", "scale": {"domain": [20.06, 31.98], "nice": false, "zero": false},
            "axis": {"values": [22,24,26,28,30], "title": "Slope\u00a0 (cm/km)", "titleFontSize": 32, "titleX": -81.3, "titleY": 206, "titleAngle": 270, "titleBaseline": "middle", "titleAlign": "center", "labelFontSize": 26, "labelAngle": 270, "labelAlign": "center", "labelBaseline": "alphabetic", "labelPadding": 24, "tickSize": 7}}}},
    {"data": {"name": "c_slope"}, "transform": [{"filter": "datum.s == 'AirSWOT Slopes'"}], "mark": {"type": "line", "strokeWidth": 2.4, "color": "#e8262a"},
     "encoding": {"x": {"field": "x", "type": "quantitative"}, "y": {"field": "v", "type": "quantitative"}}},
    {"data": {"name": "c_slope"}, "mark": {"type": "point", "filled": true, "size": 10, "opacity": 1},
     "encoding": {
      "x": {"field": "x", "type": "quantitative"}, "y": {"field": "v", "type": "quantitative"},
      "color": {"field": "s", "type": "nominal", "scale": {"domain": ["GPS Profile Slopes","AirSWOT Slopes"], "range": ["#111111","#e8262a"]},
        "legend": {"title": null, "orient": "top-right", "offset": 0, "padding": 8, "fillColor": "white", "strokeColor": "#333333", "labelFontSize": 20, "labelColor": "#1a1a1a", "labelLimit": 400, "symbolSize": 150, "symbolType": "circle", "symbolOffset": 4, "labelOffset": 7, "rowPadding": 7, "symbolOpacity": 1}}}},
    {"data": {"name": "c_txt"}, "mark": {"type": "text", "fontSize": 36, "color": "#111111", "align": "center", "baseline": "middle"},
     "encoding": {"x": {"field": "x", "type": "quantitative"}, "y": {"field": "y", "type": "quantitative"}, "text": {"field": "t"}}},
    {"data": {"name": "c_ttl"}, "mark": {"type": "text", "fontSize": 33, "color": "#111111", "align": "center", "baseline": "middle"},
     "encoding": {"x": {"field": "x", "type": "quantitative"}, "y": {"field": "y", "type": "quantitative"}, "text": {"field": "t"}}},
    {"data": {"name": "c_nse"}, "mark": {"type": "text", "fontSize": 29, "color": "#20208c", "align": "center", "baseline": "middle"},
     "encoding": {"x": {"field": "x", "type": "quantitative"}, "y": {"field": "y", "type": "quantitative"}, "text": {"field": "t"}}}
   ]},
  {"width": 697.4, "height": 425.5,
   "layer": [
    {"data": {"name": "d_slope"}, "transform": [{"filter": "datum.s == 'GPS Profile Slopes'"}], "mark": {"type": "line", "strokeWidth": 2.8, "color": "#111111"},
     "encoding": {
      "x": {"field": "x", "type": "quantitative", "scale": {"domain": [61.67, 84.21], "nice": false, "zero": false},
            "axis": {"values": [65,70,75,80], "title": null, "labelFontSize": 24.5, "tickSize": 8, "labelPadding": 10}},
      "y": {"field": "v", "type": "quantitative", "scale": {"domain": [15.76, 32.18], "nice": false, "zero": false},
            "axis": {"values": [20,25,30], "title": null, "labelFontSize": 26, "labelAngle": 270, "labelAlign": "center", "labelBaseline": "alphabetic", "labelPadding": 20, "tickSize": 7}}}},
    {"data": {"name": "d_slope"}, "transform": [{"filter": "datum.s == 'AirSWOT Slopes'"}], "mark": {"type": "line", "strokeWidth": 2.4, "color": "#e8262a"},
     "encoding": {"x": {"field": "x", "type": "quantitative"}, "y": {"field": "v", "type": "quantitative"}}},
    {"data": {"name": "d_slope"}, "mark": {"type": "point", "filled": true, "size": 10, "opacity": 1},
     "encoding": {
      "x": {"field": "x", "type": "quantitative"}, "y": {"field": "v", "type": "quantitative"},
      "color": {"field": "s", "type": "nominal", "scale": {"domain": ["GPS Profile Slopes","AirSWOT Slopes"], "range": ["#111111","#e8262a"]}, "legend": null}}},
    {"data": {"name": "d_txt"}, "mark": {"type": "text", "fontSize": 36, "color": "#111111", "align": "center", "baseline": "middle"},
     "encoding": {"x": {"field": "x", "type": "quantitative"}, "y": {"field": "y", "type": "quantitative"}, "text": {"field": "t"}}},
    {"data": {"name": "d_ttl"}, "mark": {"type": "text", "fontSize": 33, "color": "#111111", "align": "center", "baseline": "middle"},
     "encoding": {"x": {"field": "x", "type": "quantitative"}, "y": {"field": "y", "type": "quantitative"}, "text": {"field": "t"}}},
    {"data": {"name": "d_nse"}, "mark": {"type": "text", "fontSize": 29, "color": "#20208c", "align": "center", "baseline": "middle"},
     "encoding": {"x": {"field": "x", "type": "quantitative"}, "y": {"field": "y", "type": "quantitative"}, "text": {"field": "t"}}}
   ]}
 ], "spacing": 62.9, "bounds": "flush",
 "resolve": {"scale": {"color": "independent", "shape": "independent", "stroke": "independent", "size": "independent"}, "legend": {"color": "independent", "shape": "independent", "stroke": "independent"}}}
],
"spacing": 30.5,
"config": {
  "font": "Liberation Sans",
  "view": {"stroke": "#3a3a3a", "strokeWidth": 1.6},
  "axis": {"domain": false, "grid": false, "tickColor": "#3a3a3a", "tickWidth": 1.2, "labelColor": "#222222", "titleColor": "#111111", "titleFontWeight": "normal", "labelFont": "Liberation Sans", "titleFont": "Liberation Sans", "labelOverlap": false, "labelFlush": false},
  "title": {"font": "Liberation Sans", "fontWeight": "normal", "color": "#111111"},
  "legend": {"labelFont": "Liberation Sans"},
  "text": {"font": "Liberation Sans"}
}
}
